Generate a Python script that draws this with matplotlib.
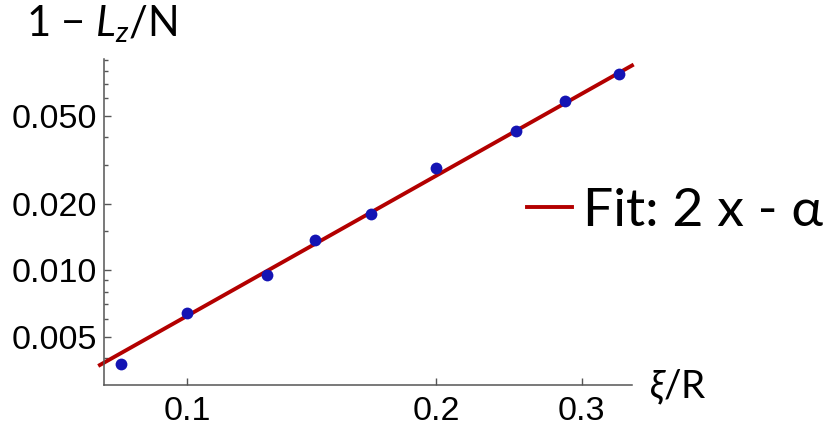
#!/usr/bin/env python3
"""Log-log plot of 1 - Lz/N against xi/R with a power-law fit line."""

import numpy as np
import matplotlib
matplotlib.use("Agg")
import matplotlib.pyplot as plt
from matplotlib.lines import Line2D

# data
xi_over_r = [0.0833, 0.1, 0.125, 0.143, 0.167, 0.2, 0.25, 0.286, 0.333]
one_minus_lz = [0.00376, 0.00638, 0.00949, 0.0137, 0.0180, 0.0290, 0.0428, 0.0585, 0.0773]

# fit: y = fit_at_01 * (x / 0.1) ** fit_exponent
fit_exponent = 2.11
fit_at_01 = 0.0062
fit_range = (0.0785, 0.345)

y_major = [0.005, 0.01, 0.02, 0.05]
y_major_labels = ["0.005", "0.010", "0.020", "0.050"]
y_minor = [0.004, 0.006, 0.007, 0.008, 0.009, 0.015, 0.03, 0.04, 0.06, 0.07, 0.08, 0.09]
x_major = [0.1, 0.2, 0.3]
x_major_labels = ["0.1", "0.2", "0.3"]

plt.rcParams["mathtext.fontset"] = "custom"
plt.rcParams["mathtext.rm"] = "Lato"
plt.rcParams["mathtext.it"] = "Lato:italic"

TEXT_FONT = ["Lato", "DejaVu Sans"]
TICK_FONT = "Liberation Sans"
AXIS_GREY = "#555555"
FIT_RED = "#b30000"
POINT_BLUE = "#1414b4"

fig = plt.figure(figsize=(8.32, 4.29), dpi=100)
ax = fig.add_axes([0.125, 0.1026, 0.6346, 0.7599])

x_fit = np.geomspace(*fit_range, 100)
y_fit = fit_at_01 * (x_fit / 0.1) ** fit_exponent
ax.plot(x_fit, y_fit, color=FIT_RED, linewidth=2.8, clip_on=False, zorder=2)
ax.plot(xi_over_r, one_minus_lz, "o", color=POINT_BLUE, markersize=8.5,
        markeredgewidth=0, clip_on=False, zorder=3)

ax.set_xscale("log")
ax.set_yscale("log")
ax.set_xlim(0.0794, 0.345)
ax.set_ylim(0.00302, 0.0905)

ax.set_xticks(x_major)
ax.set_xticklabels(x_major_labels)
ax.set_xticks([], minor=True)
ax.set_yticks(y_major)
ax.set_yticklabels(y_major_labels)
ax.set_yticks(y_minor, minor=True)
ax.set_yticklabels([], minor=True)

for side in ("top", "right"):
    ax.spines[side].set_visible(False)
for side in ("left", "bottom"):
    ax.spines[side].set_color(AXIS_GREY)
    ax.spines[side].set_linewidth(1.1)

ax.tick_params(which="major", direction="in", length=5, width=1, color=AXIS_GREY,
               labelsize=24.5)
ax.tick_params(which="minor", direction="in", length=3, width=1, color=AXIS_GREY)
ax.tick_params(axis="y", which="major", pad=5)
ax.tick_params(axis="x", which="major", pad=8)
for label in ax.get_xticklabels() + ax.get_yticklabels():
    label.set_fontfamily(TICK_FONT)

fig.text(0.031, 0.914, r"1 − $L_z$/N", fontsize=30, family=TEXT_FONT,
         ha="left", va="baseline")
fig.text(0.780, 0.072, r"$\xi$/R", fontsize=28, family=TEXT_FONT,
         ha="left", va="baseline")

handle = Line2D([], [], color=FIT_RED, linewidth=2.8)
fig.legend([handle], ["Fit: 2 x - α"], loc="center left",
           bbox_to_anchor=(0.633, 0.5065), frameon=False,
           prop={"family": TEXT_FONT, "size": 38.5},
           handlelength=0.85, handletextpad=0.2, borderpad=0, borderaxespad=0)

fig.savefig("out.png", dpi=100)
